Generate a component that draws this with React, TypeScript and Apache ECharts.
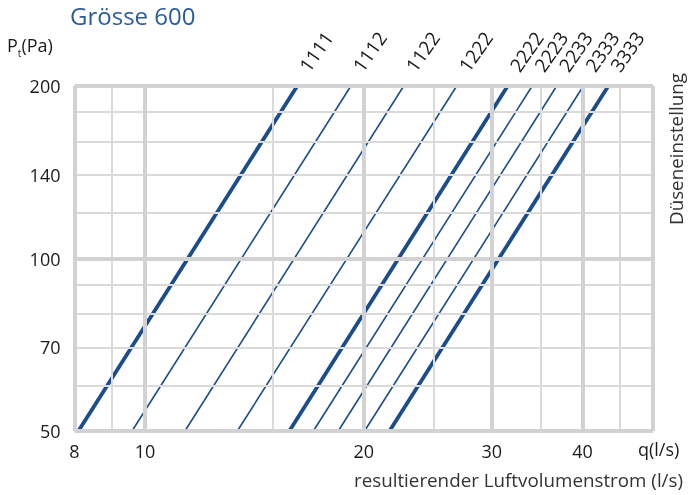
import React, { useEffect, useRef } from "react";
import * as echarts from "echarts";

// Düseneinstellung (nozzle settings) – one line per setting
const settings = ["1111", "1112", "1122", "1222", "2222", "2223", "2233", "2333", "3333"];
const boldSetting = [true, false, false, false, true, false, false, false, true];
// airflow q (l/s) at the lower and upper pressure bound
const pressureRange = [50, 200];
const qAtLow = [8.1, 9.6, 11.35, 13.4, 15.8, 17.05, 18.45, 20.05, 21.7];
const qAtHigh = [16.2, 19.2, 22.7, 26.85, 31.55, 34.1, 36.85, 40.1, 43.4];

// axes
const qTickLabels = [8, 10, 20, 30, 40];
const pTickLabels = [50, 70, 100, 140, 200];
const qGridMajor = [8, 10, 20, 30, 40, 50];
const qGridMinor = [9, 15, 25, 35, 45];
const pGridMajor = [50, 100, 200];
const pGridMinor = [60, 70, 80, 90, 120, 140, 160, 180];

const FONT = "'Open Sans', 'Noto Sans', sans-serif";
const LINE_COLOR = "#1b4d8d";
const GRID_MAJOR = "#d2d2d2";
const GRID_MINOR = "#dadada";
const TEXT = "#1a1a1a";

export default function App() {
  const ref = useRef<HTMLDivElement>(null);

  useEffect(() => {
    if (!ref.current) return;
    const chart = echarts.init(ref.current, undefined, { renderer: "svg" });

    const gridMarks: any[] = [];
    qGridMinor.forEach((v) => gridMarks.push({ xAxis: v, lineStyle: { width: 2, color: GRID_MINOR, type: "solid" } }));
    pGridMinor.forEach((v) => gridMarks.push({ yAxis: v, lineStyle: { width: 2, color: GRID_MINOR, type: "solid" } }));
    qGridMajor.forEach((v) => gridMarks.push({ xAxis: v, lineStyle: { width: 4, color: GRID_MAJOR, type: "solid" } }));
    pGridMajor.forEach((v) => gridMarks.push({ yAxis: v, lineStyle: { width: 4, color: GRID_MAJOR, type: "solid" } }));

    const curveSeries = settings.map((name, i) => ({
      name,
      type: "line",
      z: 3,
      showSymbol: true,
      symbol: "circle",
      symbolSize: 1,
      itemStyle: { color: LINE_COLOR },
      lineStyle: { color: LINE_COLOR, width: boldSetting[i] ? 3.8 : 1.6 },
      silent: true,
      data: [
        [qAtLow[i], pressureRange[0]],
        {
          value: [qAtHigh[i], pressureRange[1]],
          label: {
            show: true,
            formatter: name,
            position: [7, -16],
            rotate: 55,
            align: "left",
            verticalAlign: "middle",
            fontSize: 19,
            fontFamily: FONT,
            color: TEXT,
          },
        },
      ],
    }));

    chart.setOption({
      animation: false,
      grid: { left: 74.5, right: 36, top: 86, bottom: 64, containLabel: false, outerBoundsMode: "none" },
      xAxis: {
        type: "log",
        logBase: 10,
        min: 8,
        max: 50,
        axisLine: { show: false },
        axisTick: { show: false },
        splitLine: { show: false },
        minorSplitLine: { show: false },
        axisLabel: {
          customValues: qTickLabels,
          formatter: (v: number) => String(Math.round(v)),
          fontSize: 18,
          fontFamily: FONT,
          color: TEXT,
          margin: 11,
        },
      },
      yAxis: {
        type: "log",
        logBase: 10,
        min: 50,
        max: 200,
        axisLine: { show: false },
        axisTick: { show: false },
        splitLine: { show: false },
        axisLabel: {
          customValues: pTickLabels,
          formatter: (v: number) => String(Math.round(v)),
          fontSize: 18,
          fontFamily: FONT,
          color: TEXT,
          margin: 14,
        },
      },
      graphic: [
        {
          type: "text",
          left: 70,
          top: 3,
          style: { text: "Grösse 600", fontSize: 24, fontFamily: FONT, fill: "#2a5c9c" },
        },
        {
          type: "text",
          left: 7,
          top: 36,
          style: {
            text: "P{sub|t}(Pa)",
            fontSize: 18,
            fontFamily: FONT,
            fill: TEXT,
            rich: { sub: { fontSize: 10, fontFamily: FONT, fill: TEXT, padding: [16, 0, 0, 0] } },
          },
        },
        {
          type: "text",
          left: 638,
          top: 440,
          style: { text: "q(l/s)", fontSize: 18, fontFamily: FONT, fill: TEXT },
        },
        {
          type: "text",
          right: 6,
          top: 470,
          style: { text: "resultierender Luftvolumenstrom (l/s)", fontSize: 18.8, fontFamily: FONT, fill: "#333" },
        },
        {
          type: "text",
          x: 666,
          y: 225,
          rotation: Math.PI / 2,
          style: { text: "Düseneinstellung", fontSize: 18.8, fontFamily: FONT, fill: "#333", verticalAlign: "top" },
        },
      ],
      series: [
        {
          type: "line",
          data: [],
          z: 1,
          silent: true,
          markLine: {
            silent: true,
            symbol: ["none", "none"],
            label: { show: false },
            animation: false,
            data: gridMarks,
          },
        },
        ...curveSeries,
      ],
    });

    return () => chart.dispose();
  }, []);

  return <div ref={ref} style={{ position: "fixed", left: 0, top: 0, width: 689, height: 495 }} />;
}
